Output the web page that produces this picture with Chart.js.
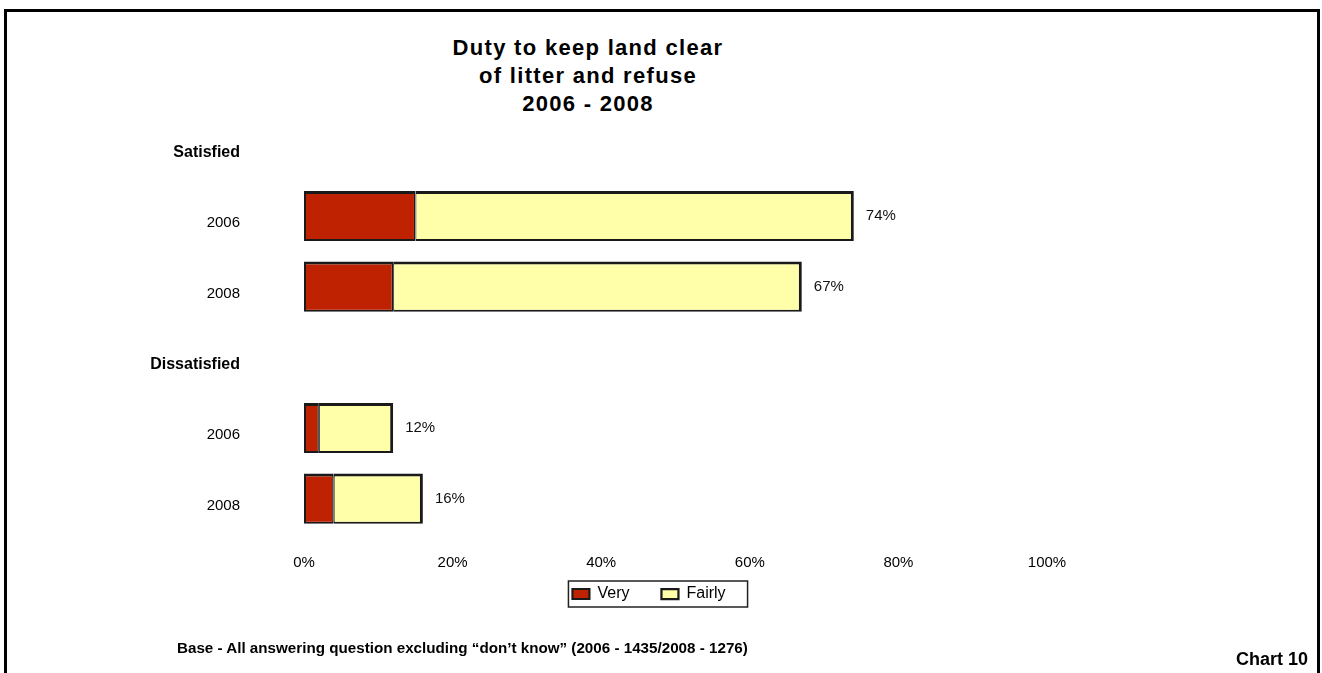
<!DOCTYPE html>
<html>
<head>
<meta charset="utf-8">
<title>Duty to keep land clear of litter and refuse 2006 - 2008</title>
<script src="https://cdn.jsdelivr.net/npm/chart.js@4/dist/chart.umd.min.js"></script>
<style>
  html, body { margin: 0; padding: 0; background: #fff; }
  body { width: 1322px; height: 673px; position: relative; overflow: hidden; font-family: "Liberation Sans", Arial, sans-serif; }
  #frame { position: absolute; left: 4px; top: 9px; width: 1310px; height: 700px; border: 3px solid #000; box-sizing: content-box; }
  #title { position: absolute; left: 388px; top: 34px; width: 400px; text-align: center; font-weight: bold; font-size: 22px; line-height: 28px; letter-spacing: 1.3px; color: #000; }
  #wrap { position: absolute; left: 0; top: 0; width: 1298px; height: 673px; }
  #base { position: absolute; left: 177px; top: 639px; font-weight: bold; font-size: 15.2px; color: #000; white-space: nowrap; }
  #chartNo { position: absolute; right: 14px; top: 649px; font-weight: bold; font-size: 18px; color: #000; }
</style>
</head>
<body>
<div id="frame"></div>
<div id="title">Duty to keep land clear<br>of litter and refuse<br>2006 - 2008</div>
<div id="wrap"><canvas id="chart"></canvas></div>
<div id="base">Base - All answering question excluding “don’t know” (2006 - 1435/2008 - 1276)</div>
<div id="chartNo">Chart 10</div>
<script>
// Rows of the chart: group headings followed by the survey years
const categories = ['Satisfied', '2006', '2008', 'Dissatisfied', '2006', '2008'];
const headingRows = ['Satisfied', 'Dissatisfied'];

// Percentages (heading rows carry no bar)
const veryValues   = [null, 15, 12, null, 2, 4];
const fairlyValues = [null, 59, 55, null, 10, 12];

// Horizontal axis labels
const xTickLabels = ['0%', '20%', '40%', '60%', '80%', '100%'];

const seriesNames = ['Very', 'Fairly'];
const RED = '#BF2200';
const YELLOW = '#FFFFAA';
const EDGE = '#1a1a1a';
const FONT = '"Liberation Sans", Arial, sans-serif';

// Total printed beside each bar (Very + Fairly)
const totalLabels = {
  id: 'totalLabels',
  afterDatasetsDraw(chart) {
    const { ctx } = chart;
    const meta = chart.getDatasetMeta(1);
    ctx.save();
    ctx.font = '15px ' + FONT;
    ctx.fillStyle = '#111';
    ctx.textAlign = 'left';
    ctx.textBaseline = 'middle';
    categories.forEach((c, i) => {
      if (veryValues[i] == null) return;
      const total = veryValues[i] + fairlyValues[i];
      const el = meta.data[i];
      ctx.fillText(total + '%', el.x + 12, el.y);
    });
    ctx.restore();
  }
};

// Pull the legend up so its row sits just under the axis labels
const legendLift = {
  id: 'legendLift',
  afterLayout(chart) {
    const lg = chart.legend;
    if (!lg) return;
    lg.top -= 18;
    lg.bottom -= 18;
  }
};

// Rectangle drawn round the legend entries
const legendFrame = {
  id: 'legendFrame',
  afterDraw(chart) {
    const boxes = chart.legend && chart.legend.legendHitBoxes;
    if (!boxes || !boxes.length) return;
    const first = boxes[0], last = boxes[boxes.length - 1];
    const ctx = chart.ctx;
    ctx.save();
    ctx.strokeStyle = '#222';
    ctx.lineWidth = 1.5;
    const l = first.left - 4, r = last.left + last.width + 22;
    const t = first.top - 5, b = first.top + first.height + 5;
    ctx.strokeRect(l, t, r - l, b - t);
    ctx.restore();
  }
};

new Chart(document.getElementById('chart'), {
  type: 'bar',
  data: {
    labels: categories,
    datasets: [
      {
        label: seriesNames[0], data: veryValues, backgroundColor: RED, borderColor: EDGE,
        borderWidth: { top: 3, right: 1.5, bottom: 2, left: 2 }, borderSkipped: false
      },
      {
        label: seriesNames[1], data: fairlyValues, backgroundColor: YELLOW, borderColor: EDGE,
        borderWidth: { top: 3, right: 3, bottom: 2, left: 1 }, borderSkipped: false
      }
    ]
  },
  options: {
    indexAxis: 'y',
    responsive: true,
    maintainAspectRatio: false,
    animation: false,
    datasets: { bar: { barPercentage: 0.71, categoryPercentage: 1 } },
    layout: { padding: { top: 110, right: 0, bottom: 43, left: 0 } },
    scales: {
      x: {
        stacked: true,
        min: 0, max: 100,
        grid: { display: false, drawTicks: false },
        border: { display: false },
        ticks: {
          stepSize: 20,
          padding: 20,
          color: '#000',
          font: { family: FONT, size: 15 },
          callback: (v, i) => xTickLabels[i]
        },
        afterFit(scale) { scale.height = 38; }
      },
      y: {
        stacked: true,
        grid: { display: false, drawTicks: false },
        border: { display: false },
        ticks: {
          padding: 64,
          labelOffset: 7,
          color: '#000',
          font: (ctx) => {
            const lbl = categories[ctx.index];
            return headingRows.includes(lbl)
              ? { family: FONT, size: 16, weight: 'bold' }
              : { family: FONT, size: 15 };
          }
        },
        afterFit(scale) { scale.width = 304; }
      },
      ySpacer: {
        position: 'right',
        display: true,
        grid: { display: false, drawTicks: false },
        border: { display: false },
        ticks: { display: false },
        afterFit(scale) { scale.width = 251; }
      }
    },
    plugins: {
      title: { display: false },
      tooltip: { enabled: false },
      legend: {
        position: 'bottom',
        labels: {
          boxWidth: 17,
          boxHeight: 10,
          padding: 32,
          color: '#000',
          font: { family: FONT, size: 16 }
        }
      }
    }
  },
  plugins: [totalLabels, legendLift, legendFrame]
});
</script>
</body>
</html>
